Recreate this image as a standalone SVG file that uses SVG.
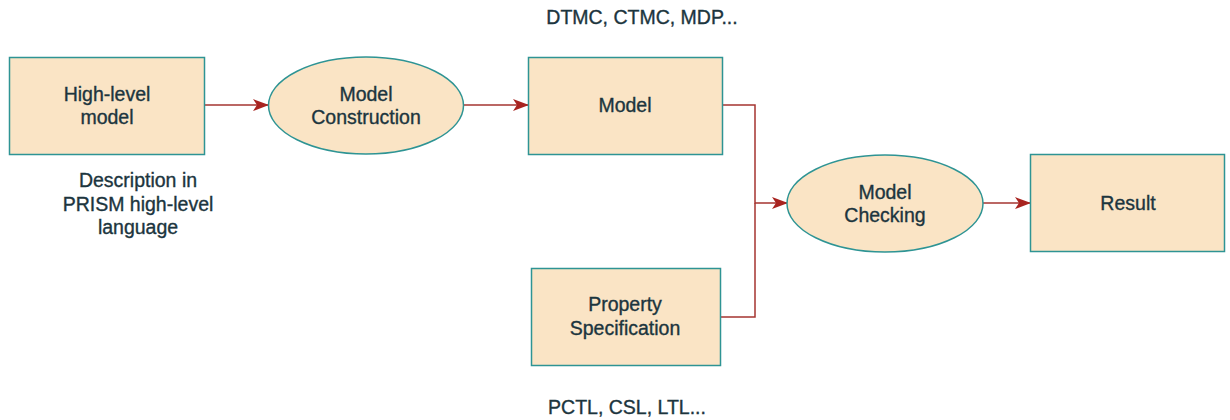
<svg xmlns="http://www.w3.org/2000/svg" width="1230" height="420" viewBox="0 0 1230 420">
  <style>
    .box { fill: #fae4c5; stroke: #2e9494; stroke-width: 1.5; }
    .lbl { font-family: "Liberation Sans", Arial, sans-serif; font-size: 19.5px; fill: #1c353e; stroke: #1c353e; stroke-width: 0.35; text-anchor: middle; }
    .edge { fill: none; stroke: #a53531; stroke-width: 1.5; }
  </style>
  <defs>
    <marker id="arrow" viewBox="0 0 16 12" refX="15" refY="6" markerWidth="16" markerHeight="12" markerUnits="userSpaceOnUse" orient="auto">
      <path d="M0,0 L16,6 L0,12 L4,6 Z" fill="#a8231f"/>
    </marker>
  </defs>

  <g id="connectors">
    <path class="edge" d="M204,105 L268,105" marker-end="url(#arrow)"/>
    <path class="edge" d="M463,105 L528,105" marker-end="url(#arrow)"/>
    <path class="edge" d="M723,105 L755,105 L755,203 L787,203" marker-end="url(#arrow)"/>
    <path class="edge" d="M720,317 L755,317 L755,203"/>
    <path class="edge" d="M983,203 L1030,203" marker-end="url(#arrow)"/>
  </g>

  <g id="high-level-model">
    <rect class="box" x="9.5" y="57.5" width="195" height="97"/>
    <text class="lbl" x="107" y="101">High-level</text>
    <text class="lbl" x="107" y="124">model</text>
  </g>

  <g id="high-level-note">
    <text class="lbl" x="138" y="187">Description in</text>
    <text class="lbl" x="138" y="211">PRISM high-level</text>
    <text class="lbl" x="138" y="234">language</text>
  </g>

  <g id="model-construction">
    <ellipse class="box" cx="366" cy="105.5" rx="97.5" ry="48.5"/>
    <text class="lbl" x="366" y="101">Model</text>
    <text class="lbl" x="366" y="124">Construction</text>
  </g>

  <g id="model">
    <rect class="box" x="528.5" y="57.5" width="194" height="97"/>
    <text class="lbl" x="625" y="112">Model</text>
  </g>

  <g id="model-note">
    <text class="lbl" x="642" y="24">DTMC, CTMC, MDP...</text>
  </g>

  <g id="property-specification">
    <rect class="box" x="531.5" y="268.5" width="189" height="97"/>
    <text class="lbl" x="625" y="311">Property</text>
    <text class="lbl" x="625" y="335">Specification</text>
  </g>

  <g id="property-note">
    <text class="lbl" x="627" y="414">PCTL, CSL, LTL...</text>
  </g>

  <g id="model-checking">
    <ellipse class="box" cx="885" cy="203.5" rx="98" ry="48.5"/>
    <text class="lbl" x="885" y="199">Model</text>
    <text class="lbl" x="885" y="222">Checking</text>
  </g>

  <g id="result">
    <rect class="box" x="1030.5" y="154.5" width="194" height="97"/>
    <text class="lbl" x="1128" y="210">Result</text>
  </g>
</svg>
